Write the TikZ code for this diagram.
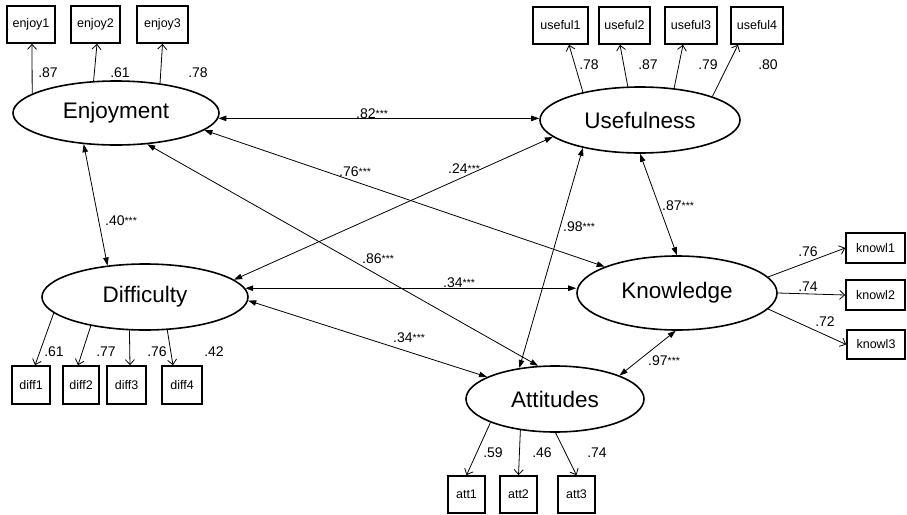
\documentclass[tikz,border=0pt]{standalone}
\usepackage{fontspec}
\setmainfont{Liberation Sans}
\usetikzlibrary{arrows.meta,calc,shapes.geometric}
\newcommand{\sigstars}{\raisebox{0.5pt}{\fontsize{10.5}{10}\selectfont ***}}
\begin{document}
\begin{tikzpicture}[x=1pt,y=-1pt,
  lat/.style={draw, ellipse, line width=1.6pt, inner sep=0pt, font=\fontsize{22.5}{24}\selectfont},
  obs/.style={draw, rectangle, line width=1.6pt, inner sep=0pt, font=\fontsize{12.5}{14}\selectfont},
  meas/.style={line width=0.8pt, -{Straight Barb[length=5pt,width=9pt]}},
  cov/.style={line width=0.8pt, {Triangle[length=8pt,width=5.5pt]}-{Triangle[length=8pt,width=5.5pt]}},
  lbl/.style={inner sep=0pt, font=\fontsize{14}{16}\selectfont},
  clbl/.style={inner sep=0pt, anchor=base west, font=\fontsize{14}{16}\selectfont},
]
\useasboundingbox (0,0) rectangle (907,514);

% latent variables
\node[lat, minimum width=206pt, minimum height=64pt] (enj) at (116,113) {Enjoyment};
\node[lat, minimum width=200pt, minimum height=66pt] (use) at (640,120) {Usefulness};
\node[lat, minimum width=206pt, minimum height=66pt] (dif) at (145,297) {Difficulty};
\node[lat, minimum width=200pt, minimum height=74pt] (kno) at (677,293) {Knowledge};
\node[lat, minimum width=178pt, minimum height=66pt] (att) at (555,399) {Attitudes};

% observed variables
\node[obs, minimum width=48pt, minimum height=37pt] (e1) at (31,24.5) {enjoy1};
\node[obs, minimum width=49pt, minimum height=37pt] (e2) at (95.5,24.5) {enjoy2};
\node[obs, minimum width=51pt, minimum height=37pt] (e3) at (162.5,24.5) {enjoy3};

\node[obs, minimum width=55pt, minimum height=37pt] (u1) at (560.5,25.5) {useful1};
\node[obs, minimum width=51pt, minimum height=37pt] (u2) at (624.5,25.5) {useful2};
\node[obs, minimum width=52pt, minimum height=37pt] (u3) at (691,25.5) {useful3};
\node[obs, minimum width=52pt, minimum height=37pt] (u4) at (757,25.5) {useful4};

\node[obs, minimum width=38pt, minimum height=38pt] (d1) at (31,385) {diff1};
\node[obs, minimum width=36pt, minimum height=38pt] (d2) at (81,385) {diff2};
\node[obs, minimum width=39pt, minimum height=38pt] (d3) at (126.5,385) {diff3};
\node[obs, minimum width=40pt, minimum height=38pt] (d4) at (182,385) {diff4};

\node[obs, minimum width=37pt, minimum height=37pt] (a1) at (466.5,494.5) {att1};
\node[obs, minimum width=37pt, minimum height=37pt] (a2) at (518.5,494.5) {att2};
\node[obs, minimum width=37pt, minimum height=37pt] (a3) at (576.5,494.5) {att3};

\node[obs, minimum width=59pt, minimum height=30pt] (k1) at (875.5,248) {knowl1};
\node[obs, minimum width=59pt, minimum height=30pt] (k2) at (875.5,295) {knowl2};
\node[obs, minimum width=58pt, minimum height=29pt] (k3) at (876,344.5) {knowl3};

% measurement arrows
\draw[meas] (enj.167) -- ([xshift=1pt]e1.south);
\draw[meas] (enj.125) -- ([xshift=1.5pt]e2.south);
\draw[meas] (enj.34) -- (e3.south);

\draw[meas] (use.154.6) -- ([xshift=8.5pt]u1.south);
\draw[meas] (use.110.1) -- ([xshift=-4.5pt]u2.south);
\draw[meas] (use.43.3) -- ([xshift=-8pt]u3.south);
\draw[meas] (use.18.1) -- ([xshift=-19pt]u4.south);

\draw[meas] (dif.190) -- ([xshift=4pt]d1.north);
\draw[meas] (dif.208.7) -- ([xshift=-3pt]d2.north);
\draw[meas] (dif.245.3) -- ([xshift=3.5pt]d3.north);
\draw[meas] (dif.304.3) -- ([xshift=-9pt]d4.north);

\draw[meas] (att.200.3) -- (a1.north);
\draw[meas] (att.222.8) -- (a2.north);
\draw[meas] (att.271) -- (a3.north);

\draw[meas] (kno.10.1) -- (k1.west);
\draw[meas] (kno.0) -- (k2.west);
\draw[meas] (kno.350.5) -- (k3.west);

% covariances
\draw[cov] (enj.357.8) -- (enj.357.8 -| use.west);
\draw[cov] (enj.349.8) -- (kno.160.9);
\draw[cov] (enj.315.5) -- (att.117.7);
\draw[cov] (enj.224.5) -- (dif.140.2);
\draw[cov] (use.191.1) -- (dif.11);
\draw[cov] (use.206.6) -- (att.139.1);
\draw[cov] (use.270) -- (kno.90);
\draw[cov] (dif.5.2) -- (dif.5.2 -| kno.west);
\draw[cov] (dif.358) -- (att.162.1);
\draw[cov] (att.20.3) -- (kno.268);

% loading labels
\node[lbl] (le1) at (48,73) {.87};
\node[lbl] (le2) at (120,73) {.61};
\node[lbl] (le3) at (198,73) {.78};
\node[lbl] (lu1) at (589,65) {.78};
\node[lbl] (lu2) at (648,65) {.87};
\node[lbl] (lu3) at (708,65) {.79};
\node[lbl] (lu4) at (768,65) {.80};
\node[lbl] (ld1) at (54,352) {.61};
\node[lbl] (ld2) at (106,352) {.77};
\node[lbl] (ld3) at (157,352) {.76};
\node[lbl] (ld4) at (214,352) {.42};
\node[lbl] (la1) at (493,453) {.59};
\node[lbl] (la2) at (542,453) {.46};
\node[lbl] (la3) at (597,453) {.74};
\node[lbl] (lk1) at (808,252) {.76};
\node[lbl] (lk2) at (808,287) {.74};
\node[lbl] (lk3) at (825,322) {.72};

% correlation labels
\node[clbl] (c1) at (356,118) {.82\sigstars};
\node[clbl] (c2) at (339,176) {.76\sigstars};
\node[clbl] (c3) at (362,263) {.86\sigstars};
\node[clbl] (c4) at (105,225) {.40\sigstars};
\node[clbl] (c5) at (448,173) {.24\sigstars};
\node[clbl] (c6) at (563,231) {.98\sigstars};
\node[clbl] (c7) at (662,210) {.87\sigstars};
\node[clbl] (c8) at (443,287) {.34\sigstars};
\node[clbl] (c9) at (393,342) {.34\sigstars};
\node[clbl] (c10) at (648,365) {.97\sigstars};
\end{tikzpicture}
\end{document}
